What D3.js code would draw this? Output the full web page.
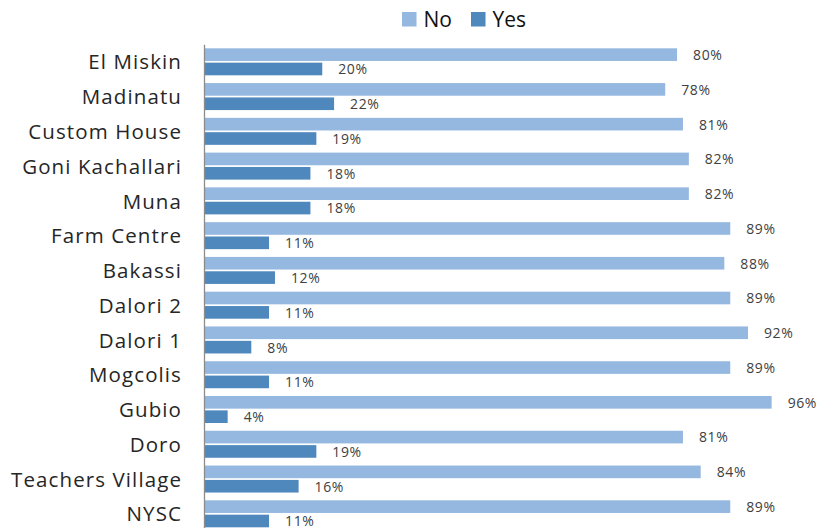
<!DOCTYPE html>
<html><head><meta charset="utf-8">
<script src="https://cdn.jsdelivr.net/npm/d3@7"></script>
<style>body{margin:0;background:#fff;overflow:hidden}</style>
</head><body>
<svg id="c" width="819" height="528"></svg>
<script>
const categories = ["El Miskin","Madinatu","Custom House","Goni Kachallari","Muna","Farm Centre","Bakassi","Dalori 2","Dalori 1","Mogcolis","Gubio","Doro","Teachers Village","NYSC"];
const noValues  = [80,78,81,82,82,89,88,89,92,89,96,81,84,89];
const yesValues = [20,22,19,18,18,11,12,11,8,11,4,19,16,11];
const seriesNames = ["No","Yes"];
const colors = {No:"#95B8E0", Yes:"#4F88BD"};

const svg = d3.select("#c");
const step = 34.77, top0 = 44.3;
const y = d3.scaleBand().domain(categories).range([top0, top0 + step*categories.length]).padding(0);
const ys = d3.scaleBand().domain(seriesNames).range([4, 31]).paddingInner(0.12);
const x = d3.scaleLinear().domain([0,100]).range([204, 795.3]);

const data = categories.map((c,i)=>({cat:c, No:noValues[i], Yes:yesValues[i]}));

const g = svg.selectAll("g.grp").data(data).join("g").attr("class","grp")
  .attr("transform", d=>`translate(0,${y(d.cat)})`);

g.selectAll("rect").data(d=>seriesNames.map(s=>({s, v:d[s]}))).join("rect")
  .attr("x", x(0)).attr("y", d=>ys(d.s)).attr("width", d=>x(d.v)-x(0))
  .attr("height", ys.bandwidth()).attr("fill", d=>colors[d.s]);

g.selectAll("text.val").data(d=>seriesNames.map(s=>({s, v:d[s]}))).join("text")
  .attr("class","val")
  .attr("x", d=>x(d.v)+16).attr("y", d=>ys(d.s)+ys.bandwidth()/2+0.5)
  .attr("dy","0.35em").attr("font-family","'Open Sans', sans-serif")
  .attr("font-size",14).attr("letter-spacing","0.6px").attr("fill","#404040").text(d=>d.v+"%");

// axis
const yAxis = d3.axisLeft(y).tickSize(0).tickPadding(22);
const ax = svg.append("g").attr("transform",`translate(${x(0)},0)`).call(yAxis);
ax.select(".domain").attr("stroke","#8c8c8c").attr("stroke-width",1.3);
ax.selectAll(".tick text").attr("font-family","'Open Sans', sans-serif")
  .attr("font-size",20.5).attr("letter-spacing","1.1px").attr("fill","#262626").attr("dy","0.38em");

// legend
const leg = svg.append("g");
const legItems = [{s:"No", x:402},{s:"Yes", x:471}];
leg.selectAll("rect").data(legItems).join("rect")
  .attr("x",d=>d.x).attr("y",12).attr("width",14.5).attr("height",14.5)
  .attr("fill",d=>colors[d.s]);
leg.selectAll("text").data(legItems).join("text")
  .attr("x",d=>d.x+21.5).attr("y",19.5).attr("dy","0.36em")
  .attr("font-family","'Open Sans', sans-serif").attr("font-size",21).attr("fill","#111")
  .text(d=>d.s);
</script>
</body></html>
